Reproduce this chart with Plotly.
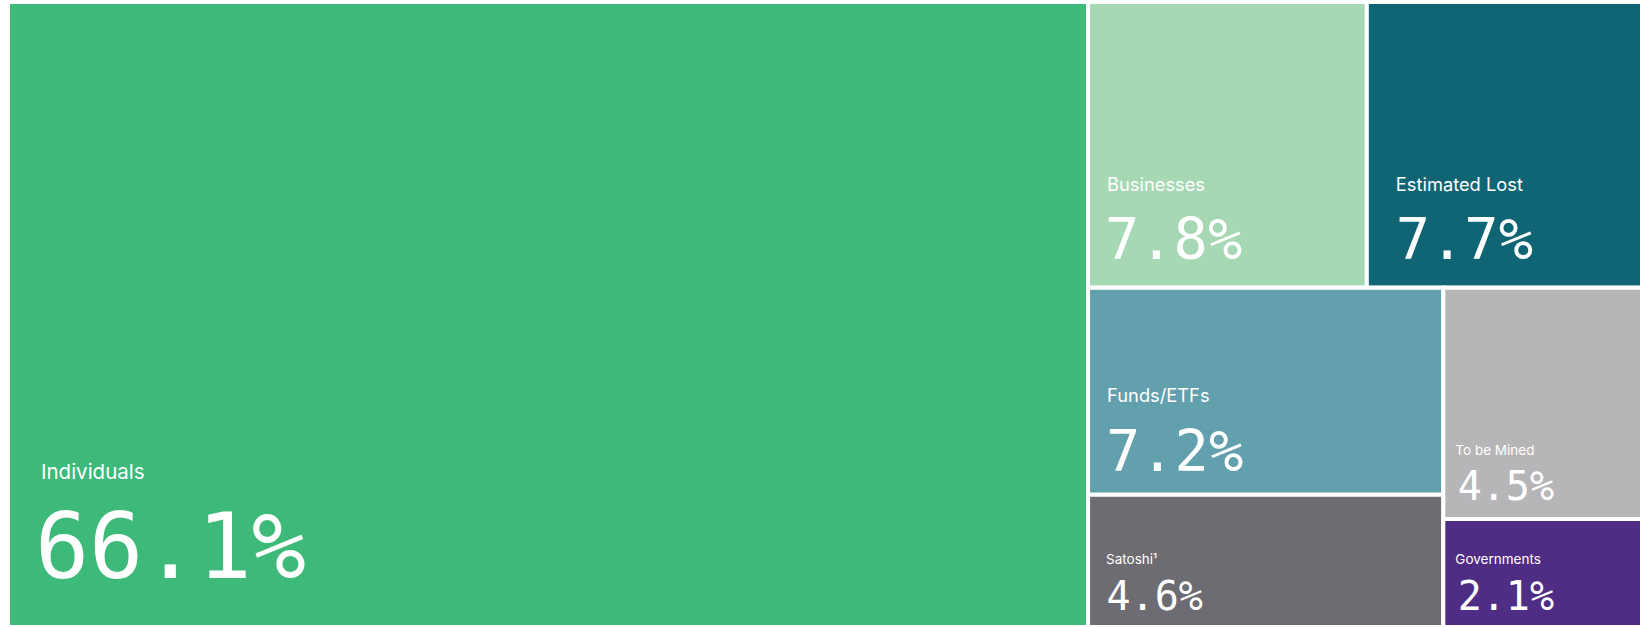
import plotly.graph_objects as go

# ---- data ----
ids = ["root", "Individuals", "others", "top", "bottom", "Businesses", "Estimated Lost",
       "left", "right", "Funds/ETFs", "Satoshi", "To be Mined", "Governments"]
labels = ["", "Individuals", "", "", "", "Businesses", "Estimated Lost",
          "", "", "Funds/ETFs", "Satoshi¹", "To be Mined", "Governments"]
parents = ["", "root", "root", "others", "others", "top", "top",
           "bottom", "bottom", "left", "left", "right", "right"]
shares = [0, 66.1, 0, 0, 0, 7.8, 7.7, 0, 0, 7.2, 4.6, 4.5, 2.1]

# ---- styles ----
colors = ["#ffffff", "#3DB97A", "#ffffff", "#ffffff", "#ffffff", "#A6D8B4", "#106575",
          "#ffffff", "#ffffff", "#63A0AD", "#6D6C72", "#B6B6B8", "#4F2D84"]
# label size, pct size, baseline gap, bottom pad, label indent, pct indent
style = {
    "Individuals": (20.5, 90, 99, 47, 32, 33),
    "Businesses": (18.3, 57, 68, 27, 18, 20),
    "Estimated Lost": (18.3, 57, 68, 27, 28, 32),
    "Funds/ETFs": (18.3, 57, 69, 22, 18, 21),
    "To be Mined": (13.5, 40, 45, 17, 11, 16),
    "Satoshi": (13.5, 40, 46, 15, 17, 20),
    "Governments": (13.5, 40, 46, 15, 11, 16),
}
MONO = "DejaVu Sans Mono"
SANS = "Inter"


def span(txt, size, fam):
    return '<span style="font-family:%s;font-size:%.1fpx">%s</span>' % (fam, size, txt)


texts = []
base_sizes = []
for i, lab, val in zip(ids, labels, shares):
    if i not in style:
        texts.append("")
        base_sizes.append(12)
        continue
    ls, ps, gap, bot, il, ip = style[i]
    ind_l = max(il - 1 - 1, 0.5) / 0.602
    ind_p = max(ip - 1 - 0.09 * ps, 0.5) / 0.602
    tail = max((bot - 1) / 0.236, ps)
    line1 = span("\u00a0", ind_l, MONO) + span(lab, ls, SANS)
    line2 = span("\u00a0", ind_p, MONO) + span("%.1f%%" % val, ps, MONO) + span("\u00a0", tail, MONO)
    texts.append(line1 + "<br>" + line2)
    base_sizes.append(gap / 1.3)

fig = go.Figure(go.Treemap(
    ids=ids, labels=labels, parents=parents, values=shares,
    branchvalues="remainder", sort=False,
    text=texts, textinfo="text", textposition="bottom left",
    textfont=dict(color="white", size=base_sizes, family=SANS),
    marker=dict(colors=colors, line=dict(color="white", width=4),
                pad=dict(t=0, l=0, r=0, b=0)),
    tiling=dict(packing="slice-dice", pad=0),
    pathbar=dict(visible=False),
    root=dict(color="white"),
    hoverinfo="skip",
))
fig.update_layout(width=1642, height=627, margin=dict(l=8, r=0, t=2, b=0),
                  paper_bgcolor="white", plot_bgcolor="white")
fig.write_html("out.html", config={"displayModeBar": False},
               post_script="document.body.style.margin='0';document.body.style.overflow='hidden';")
